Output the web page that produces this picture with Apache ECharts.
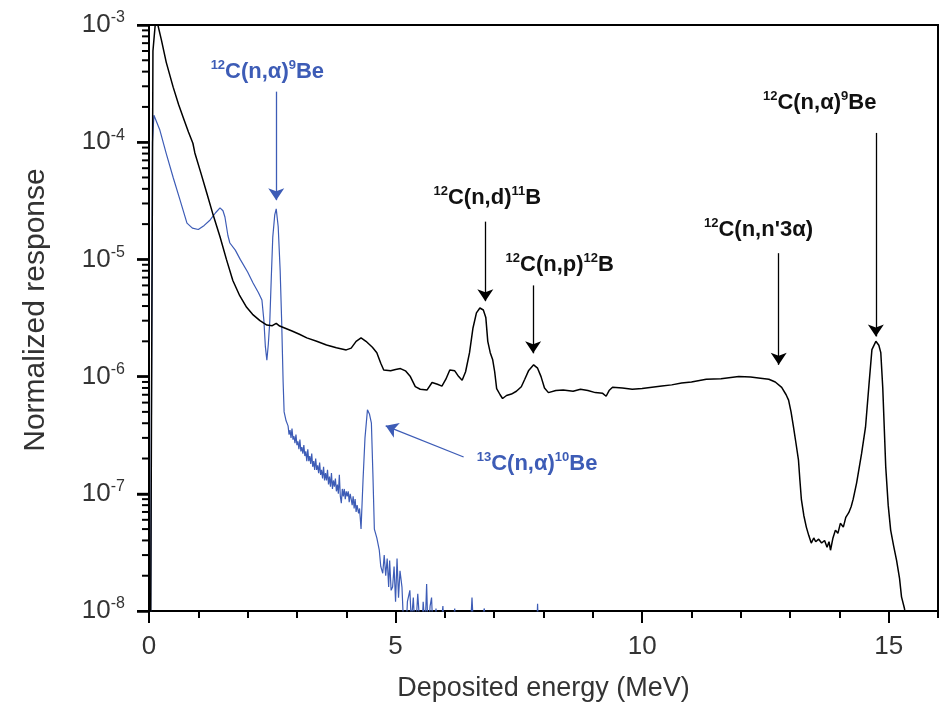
<!DOCTYPE html>
<html><head><meta charset="utf-8">
<script src="https://cdn.jsdelivr.net/npm/echarts@6/dist/echarts.min.js"></script>
<style>html,body{margin:0;padding:0;background:#fff}#c{width:944px;height:717px}</style>
</head><body><div id="c"></div>
<script>
// ---- data ----
const xMajorTicks = [0, 5, 10, 15];
const xMinorTicks = [1, 2, 3, 4, 6, 7, 8, 9, 11, 12, 13, 14, 16];
const yDecadeTicks = [1e-8, 1e-7, 1e-6, 1e-5, 1e-4, 1e-3];
const yMinorMultipliers = [2, 3, 4, 5, 6, 7, 8, 9];

// black spectrum: [deposited energy MeV, normalized response]
const blackSpectrum = [
 [0.03,3e-9],[0.08,6e-4],[0.13,1.05e-3],[0.18,1.0e-3],[0.25,7.5e-4],[0.35,4.8e-4],[0.49,2.95e-4],
 [0.6,2.1e-4],[0.69,1.64e-4],[0.8,1.22e-4],[0.89,9.8e-5],[0.93,8.1e-5],[1.05,5.5e-5],[1.17,3.7e-5],
 [1.3,2.4e-5],[1.44,1.56e-5],[1.57,1.0e-5],[1.7,6.6e-6],[1.84,4.9e-6],[1.98,3.9e-6],[2.1,3.4e-6],
 [2.25,3.0e-6],[2.39,2.75e-6],[2.5,2.72e-6],[2.58,2.85e-6],[2.65,2.7e-6],[2.75,2.6e-6],[2.9,2.45e-6],
 [3.05,2.3e-6],[3.2,2.14e-6],[3.4,2.0e-6],[3.6,1.86e-6],[3.8,1.76e-6],[4.0,1.69e-6],[4.1,1.75e-6],
 [4.2,2.0e-6],[4.3,2.14e-6],[4.4,2.0e-6],[4.53,1.78e-6],[4.62,1.6e-6],[4.7,1.3e-6],[4.76,1.14e-6],
 [4.9,1.12e-6],[5.0,1.15e-6],[5.1,1.17e-6],[5.2,1.12e-6],[5.3,1.0e-6],[5.4,8.2e-7],[5.5,7.8e-7],
 [5.64,7.7e-7],[5.74,8.9e-7],[5.85,8.6e-7],[5.94,8.3e-7],[6.02,9.5e-7],[6.1,1.14e-6],[6.2,1.12e-6],
 [6.28,1.0e-6],[6.35,9.3e-7],[6.42,1.1e-6],[6.5,1.6e-6],[6.57,2.6e-6],[6.64,3.5e-6],[6.71,3.85e-6],
 [6.78,3.7e-6],[6.83,3.2e-6],[6.87,2.0e-6],[6.92,1.6e-6],[6.97,1.39e-6],[7.01,1.1e-6],[7.05,7.9e-7],
 [7.12,7.0e-7],[7.17,6.5e-7],[7.25,6.9e-7],[7.35,7.1e-7],[7.45,7.5e-7],[7.55,8.2e-7],[7.62,9.5e-7],
 [7.7,1.13e-6],[7.8,1.26e-6],[7.88,1.18e-6],[7.95,1.0e-6],[8.02,8.0e-7],[8.1,7.3e-7],[8.25,7.6e-7],
 [8.4,7.7e-7],[8.6,7.5e-7],[8.75,7.8e-7],[8.9,7.6e-7],[9.05,7.3e-7],[9.2,7.2e-7],[9.27,6.8e-7],
 [9.33,7.6e-7],[9.4,8.1e-7],[9.6,8.0e-7],[9.8,7.8e-7],[10.0,7.9e-7],[10.2,8.1e-7],[10.4,8.3e-7],
 [10.6,8.5e-7],[10.8,8.8e-7],[11.0,9.0e-7],[11.3,9.5e-7],[11.6,9.6e-7],[11.96,1.0e-6],[12.2,9.9e-7],
 [12.4,9.7e-7],[12.57,9.5e-7],[12.7,9.0e-7],[12.83,8.1e-7],[12.92,7.0e-7],[12.97,6.3e-7],[13.02,5.0e-7],
 [13.07,3.7e-7],[13.12,2.7e-7],[13.17,1.95e-7],[13.2,1.3e-7],[13.23,8.9e-8],[13.28,6.5e-8],[13.33,5.2e-8],
 [13.38,4.4e-8],[13.43,3.8e-8],[13.48,4.2e-8],[13.52,3.9e-8],[13.58,4.1e-8],[13.64,3.8e-8],[13.7,4.0e-8],
 [13.75,3.5e-8],[13.79,3.9e-8],[13.82,3.3e-8],[13.87,4.2e-8],[13.92,4.9e-8],[13.97,4.6e-8],[14.02,5.6e-8],
 [14.08,5.2e-8],[14.13,6.3e-8],[14.19,6.9e-8],[14.24,7.8e-8],[14.28,9.0e-8],[14.35,1.24e-7],[14.45,2.2e-7],
 [14.53,3.7e-7],[14.6,8.5e-7],[14.66,1.7e-6],[14.74,2.0e-6],[14.8,1.85e-6],[14.84,1.6e-6],[14.88,8e-7],
 [14.94,1.7e-7],[14.99,8e-8],[15.04,4.9e-8],[15.1,3.6e-8],[15.16,2.7e-8],[15.22,1.9e-8],[15.26,1.32e-8],
 [15.32,1.05e-8],[15.36,8e-9],[15.4,5e-9]
];

// blue spectrum
const blueSpectrum = [
 [0.03,3e-9],[0.07,1.0e-4],[0.1,1.7e-4],[0.22,1.27e-4],[0.35,8.0e-5],[0.49,5.0e-5],[0.63,3.2e-5],
 [0.77,2.04e-5],[0.88,1.85e-5],[1.0,1.8e-5],[1.12,1.95e-5],[1.24,2.17e-5],[1.35,2.5e-5],[1.44,2.75e-5],
 [1.5,2.6e-5],[1.54,2.3e-5],[1.6,1.6e-5],[1.64,1.38e-5],[1.75,1.2e-5],[1.85,1.0e-5],[2.0,7.8e-6],
 [2.11,6.3e-6],[2.22,5.2e-6],[2.29,4.5e-6],[2.33,3.0e-6],[2.36,1.8e-6],[2.39,1.38e-6],[2.42,1.9e-6],
 [2.45,3.0e-6],[2.48,7e-6],[2.51,1.55e-5],[2.55,2.4e-5],[2.58,2.7e-5],[2.62,1.9e-5],[2.66,8e-6],
 [2.69,3.0e-6],[2.72,9e-7],[2.74,5.0e-7],[2.78,4.2e-7],[2.82,3.8e-7],[2.84,3.2e-7],[2.86,3.5e-7],[2.88,3.0e-7],[2.9,3.6e-7],
 [2.92,2.9e-7],[2.94,3.1e-7],[2.96,2.7e-7],[2.98,3.2e-7],[3.0,2.6e-7],[3.02,2.8e-7],[3.04,2.4e-7],[3.06,2.9e-7],
 [3.08,2.3e-7],[3.1,2.5e-7],[3.12,2.2e-7],[3.14,2.6e-7],[3.16,2.1e-7],[3.18,2.3e-7],[3.2,1.9e-7],
 [3.22,2.4e-7],[3.24,1.9e-7],[3.26,2.1e-7],[3.28,1.8e-7],[3.3,2.2e-7],[3.32,1.7e-7],[3.34,1.9e-7],[3.36,1.6e-7],[3.38,2.0e-7],
 [3.4,1.6e-7],[3.42,1.75e-7],[3.44,1.5e-7],[3.46,1.85e-7],[3.48,1.45e-7],[3.5,1.6e-7],[3.52,1.35e-7],[3.54,1.7e-7],
 [3.56,1.3e-7],[3.58,1.5e-7],[3.6,1.3e-7],[3.62,1.6e-7],[3.64,1.2e-7],[3.66,1.4e-7],[3.68,1.15e-7],[3.7,1.5e-7],
 [3.72,1.1e-7],[3.74,1.3e-7],[3.76,1.15e-7],[3.78,1.35e-7],[3.8,1.05e-7],[3.82,1.2e-7],[3.84,1.0e-7],[3.86,1.45e-7],
 [3.88,9.5e-8],[3.9,8.3e-8],[3.92,1.1e-7],[3.94,9.5e-8],[3.96,1.1e-7],[3.98,9.0e-8],[4.0,1.05e-7],[4.02,9.5e-8],
 [4.04,1.05e-7],[4.06,8.5e-8],[4.08,1.0e-7],[4.1,9.0e-8],[4.12,8.0e-8],[4.14,9.5e-8],[4.16,7.5e-8],[4.18,9.0e-8],
 [4.2,7.0e-8],[4.22,8.0e-8],[4.25,6.8e-8],[4.27,7.5e-8],[4.3,5.0e-8],
 [4.34,1.3e-7],[4.38,3.0e-7],[4.43,5.2e-7],[4.47,4.8e-7],[4.51,4.0e-7],[4.54,1.5e-7],[4.57,5.0e-8],
 [4.62,4.2e-8],[4.67,3.3e-8],[4.7,2.4e-8],[4.74,2.1e-8],[4.77,3.0e-8],[4.8,2.0e-8],[4.83,2.8e-8],
 [4.86,1.6e-8],[4.88,2.7e-8],[4.91,1.5e-8],[4.94,1.6e-8],[4.97,2.4e-8],[5.0,1.2e-8],[5.03,2.8e-8],
 [5.06,1.3e-8],[5.09,2.2e-8],[5.13,1.6e-8],[5.16,8e-9],[5.2,5e-9],[5.24,1.2e-8],[5.29,1.5e-8],
 [5.32,8e-9],[5.36,1.3e-8],[5.4,6e-9],[5.45,1.4e-8],[5.49,1.4e-8],[5.52,5e-9],[5.56,1.2e-8],
 [5.6,7e-9],[5.63,1.7e-8],[5.66,6e-9],[5.7,1.1e-8],[5.73,1.3e-8],[5.77,5e-9],[5.82,1.05e-8],
 [5.88,5e-9],[5.96,1.1e-8],[6.0,5e-9],[6.1,5e-9],[6.2,1.05e-8],[6.25,5e-9],[6.5,5e-9],[6.55,1.3e-8],
 [6.6,5e-9],[6.8,1.05e-8],[6.85,5e-9],[7.85,5e-9],[7.88,1.15e-8],[7.91,5e-9],[8.2,5e-9]
];

// annotation texts and anchor coordinates (energy, response)
const blackLabels = [
 {text:'{s|12}{m|C(n,d)}{s|11}{m|B}', at:[6.86, 3.35e-5]},
 {text:'{s|12}{m|C(n,p)}{s|12}{m|B}', at:[8.33, 8.9e-6]},
 {text:"{s|12}{m|C(n,n'3α)}", at:[12.36, 1.78e-5]},
 {text:'{s|12}{m|C(n,α)}{s|9}{m|Be}', at:[13.6, 2.16e-4]}
];
const blackArrows = [
 [[6.82, 2.1e-5],[6.82, 4.4e-6]],
 [[7.79, 6.0e-6],[7.79, 1.58e-6]],
 [[12.77, 1.13e-5],[12.77, 1.26e-6]],
 [[14.74, 1.2e-4],[14.74, 2.2e-6]]
];
const blueLabels = [
 {text:'{s|12}{m|C(n,α)}{s|9}{m|Be}', at:[2.40, 4.0e-4]},
 {text:'{s|13}{m|C(n,α)}{s|10}{m|Be}', at:[7.87, 1.8e-7]}
];
const blueArrows = [
 [[2.58, 2.7e-4],[2.58, 3.2e-5]],
 [[6.38, 2.06e-7],[4.80, 3.8e-7]]
];

// ---- chart ----
const BLUE = '#3d5cb6';
const FONT = 'Liberation Sans, Arial, sans-serif';
const yMinorTicks = [];
yDecadeTicks.slice(0, -1).forEach(d => yMinorMultipliers.forEach(k => yMinorTicks.push(k * d)));

function annRich(color) {
  return {
    m: {fontFamily: FONT, fontSize: 22, fontWeight: 'bold', color: color, lineHeight: 26},
    s: {fontFamily: FONT, fontSize: 13, fontWeight: 'bold', color: color, lineHeight: 13, verticalAlign: 'top'}
  };
}
function markLines(arrows, color) {
  return {
    silent: true, animation: false,
    lineStyle: {color: color, width: 1.3, type: 'solid'},
    label: {show: false},
    data: arrows.map(a => [{coord: a[0], symbol: 'none'}, {coord: a[1], symbol: 'arrow', symbolSize: 12}])
  };
}
function markPoints(labels, color) {
  return {
    silent: true, animation: false,
    symbol: 'rect', symbolSize: 1,
    itemStyle: {color: 'rgba(0,0,0,0)'},
    label: {show: true, position: 'inside', formatter: p => p.name, rich: annRich(color)},
    data: labels.map(l => ({name: l.text, coord: l.at}))
  };
}

const chart = echarts.init(document.getElementById('c'));
chart.setOption({
  animation: false,
  backgroundColor: '#fff',
  grid: {left: 149, right: 6, top: 25, bottom: 106, show: true, borderColor: '#000', borderWidth: 2},
  xAxis: [{
    type: 'value', min: 0, max: 16,
    name: 'Deposited energy (MeV)', nameLocation: 'middle', nameGap: 64,
    nameTextStyle: {fontFamily: FONT, fontSize: 27, color: '#333'},
    axisLine: {show: true, lineStyle: {color: '#000', width: 2}},
    axisTick: {show: true, customValues: xMajorTicks, length: 12, inside: false, lineStyle: {color: '#000', width: 2}},
    axisLabel: {customValues: xMajorTicks, margin: 23, fontFamily: FONT, fontSize: 26, color: '#333'},
    splitLine: {show: false}
  }, {
    type: 'value', min: 0, max: 16, position: 'bottom',
    axisLine: {show: false},
    axisTick: {show: true, customValues: xMinorTicks, length: 7, lineStyle: {color: '#000', width: 2}},
    axisLabel: {show: false},
    splitLine: {show: false}
  }],
  yAxis: [{
    type: 'log', min: 1e-8, max: 1e-3,
    name: 'Normalized response', nameLocation: 'middle', nameGap: 98,
    nameTextStyle: {fontFamily: FONT, fontSize: 30, color: '#333', padding: [0, 0, 0, 16]},
    axisLine: {show: true, lineStyle: {color: '#000', width: 2}},
    axisTick: {show: true, length: 12, lineStyle: {color: '#000', width: 2.5}},
    axisLabel: {
      margin: 24,
      formatter: v => '{b|10}{s|' + Math.round(Math.log10(v)) + '}',
      rich: {
        b: {fontFamily: FONT, fontSize: 26, color: '#333', lineHeight: 30},
        s: {fontFamily: FONT, fontSize: 16, color: '#333', lineHeight: 16, verticalAlign: 'top'}
      }
    },
    splitLine: {show: false}
  }],
  series: [{
    type: 'line', name: 'blue',
    data: blueSpectrum, showSymbol: false, clip: true,
    lineStyle: {color: BLUE, width: 1.2},
    markLine: markLines(blueArrows, BLUE),
    markPoint: markPoints(blueLabels, BLUE),
    z: 2
  }, {
    type: 'line', name: 'black',
    data: blackSpectrum, showSymbol: false, clip: true,
    lineStyle: {color: '#000', width: 1.5},
    markLine: markLines(blackArrows, '#000'),
    markPoint: markPoints(blackLabels, '#111'),
    z: 3
  }]
});

// y-axis tick marks (decades and 2..9 minors), positioned through the chart's own log scale
const tickElements = [];
function addTicks(values, len) {
  values.forEach(v => {
    const p = chart.convertToPixel({xAxisIndex: 0, yAxisIndex: 0}, [0, v]);
    if (!p || !isFinite(p[1])) return;
    tickElements.push({
      type: 'line', silent: true, z: 100,
      shape: {x1: p[0] - len, y1: p[1], x2: p[0], y2: p[1]},
      style: {stroke: '#000', lineWidth: 2}
    });
  });
}
addTicks(yDecadeTicks, 12);
addTicks(yMinorTicks, 7);
chart.setOption({graphic: {elements: tickElements}});
</script></body></html>
